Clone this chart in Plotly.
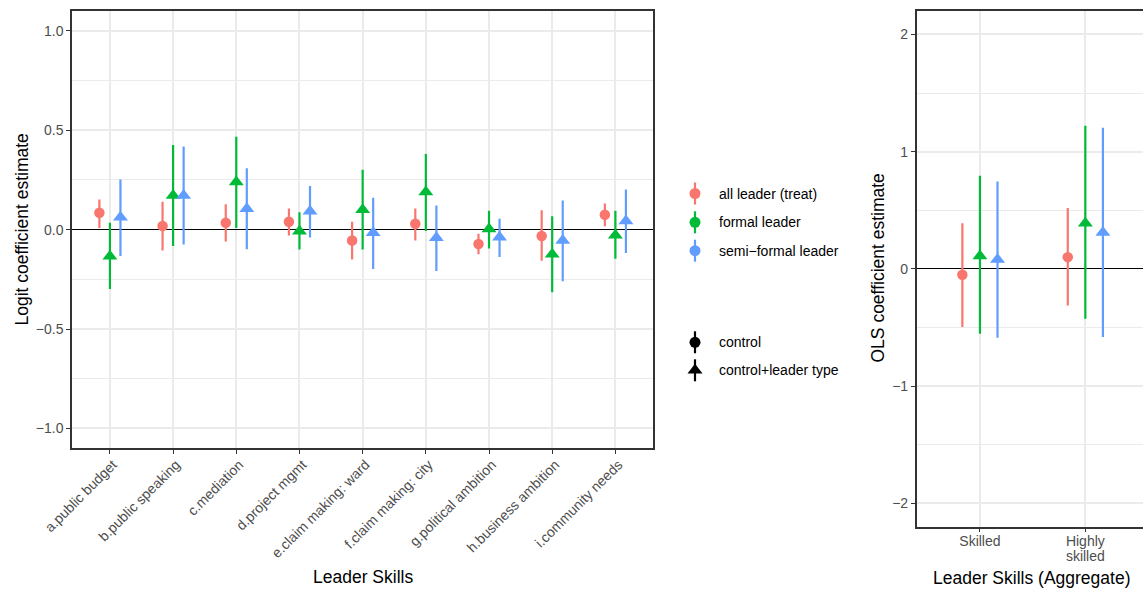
import plotly.graph_objects as go

# ---------------- data ----------------
skills = ["a.public budget", "b.public speaking", "c.mediation", "d.project mgmt",
          "e.claim making: ward", "f.claim making: city", "g.political ambition",
          "h.business ambition", "i.community needs"]

# all leader (treat) -- model: control
all_est = [0.085, 0.018, 0.035, 0.040, -0.055, 0.030, -0.072, -0.032, 0.075]
all_lo = [0.008, -0.105, -0.060, -0.029, -0.150, -0.054, -0.124, -0.157, 0.017]
all_hi = [0.152, 0.140, 0.128, 0.107, 0.040, 0.107, -0.020, 0.097, 0.132]

# formal leader -- model: control+leader type
formal_est = [-0.134, 0.172, 0.240, -0.008, 0.100, 0.190, 0.003, -0.124, -0.028]
formal_lo = [-0.298, -0.082, 0.008, -0.100, -0.100, -0.007, -0.095, -0.315, -0.146]
formal_hi = [0.035, 0.426, 0.467, 0.087, 0.301, 0.381, 0.095, 0.068, 0.095]

# semi-formal leader -- model: control+leader type
semi_est = [0.062, 0.172, 0.105, 0.092, -0.016, -0.041, -0.038, -0.054, 0.044]
semi_lo = [-0.132, -0.075, -0.099, -0.040, -0.198, -0.208, -0.137, -0.259, -0.117]
semi_hi = [0.252, 0.418, 0.309, 0.219, 0.161, 0.122, 0.055, 0.147, 0.202]

# aggregate panel
agg_cats = ["Skilled", "Highly<br>skilled"]
agg_all_est = [-0.05, 0.10]
agg_all_lo = [-0.497, -0.313]
agg_all_hi = [0.39, 0.52]
agg_formal_est = [0.11, 0.39]
agg_formal_lo = [-0.554, -0.426]
agg_formal_hi = [0.795, 1.22]
agg_semi_est = [0.08, 0.31]
agg_semi_lo = [-0.588, -0.582]
agg_semi_hi = [0.746, 1.204]

left_yticks = [-1.0, -0.5, 0.0, 0.5, 1.0]
left_yticktext = ["\u22121.0", "\u22120.5", "0.0", "0.5", "1.0"]
right_yticks = [-2, -1, 0, 1, 2]
right_yticktext = ["\u22122", "\u22121", "0", "1", "2"]

series_names = ["all leader (treat)", "formal leader", "semi\u2212formal leader"]
model_names = ["control", "control+leader type"]

# ---------------- style ----------------
W, H = 1143, 590
COLORS = ["#F8766D", "#00BA38", "#619CFF"]
SYMBOLS = ["circle", "triangle-up", "triangle-up"]
MSIZE = {"circle": 10.5, "triangle-up": 13}
DODGE = [-1 / 6, 0.0, 1 / 6]
FONT = "Liberation Sans, Arial, Helvetica, sans-serif"
TICK_COLOR = "#4D4D4D"
GRID = "#EBEBEB"
BORDER = "#333333"
ERR_W = 2.2


def px_x(p):
    return p / W


def px_y(p):
    return 1 - p / H


def tight_lines(label, size=14):
    # keep 14px glyphs but a tighter line pitch (set by the smaller base tick font)
    return "<br>".join(f"<span style='font-size:{size}px'>{part}</span>"
                       for part in label.split("<br>"))


fig = go.Figure()


def add_panel(cats, series, xa, ya):
    for k, (est, lo, hi) in enumerate(series):
        plus = [h - e for e, h in zip(est, hi)]
        minus = [e - l for e, l in zip(est, lo)]
        fig.add_trace(go.Scatter(
            x=[i + 1 + DODGE[k] for i in range(len(cats))], y=est, mode="markers",
            marker=dict(symbol=SYMBOLS[k], size=MSIZE[SYMBOLS[k]], color=COLORS[k],
                        line=dict(width=0)),
            error_y=dict(type="data", symmetric=False, array=plus, arrayminus=minus,
                         width=0, thickness=ERR_W, color=COLORS[k]),
            xaxis=xa, yaxis=ya, showlegend=False, name=series_names[k],
            cliponaxis=False))


add_panel(skills, [(all_est, all_lo, all_hi), (formal_est, formal_lo, formal_hi),
                   (semi_est, semi_lo, semi_hi)], "x", "y")
add_panel(agg_cats, [(agg_all_est, agg_all_lo, agg_all_hi),
                     (agg_formal_est, agg_formal_lo, agg_formal_hi),
                     (agg_semi_est, agg_semi_lo, agg_semi_hi)], "x2", "y2")

# ---------------- legend (drawn in pixel-coordinate helper axes) ----------------
LEG_X0, LEG_X1 = 665, 880
glyph_x = 695
text_x = 716.5
series_rows = [193.5, 222.3, 250.7]
model_rows = [342.3, 370.3]
annotations = []
for k, name in enumerate(series_names):
    fig.add_trace(go.Scatter(
        x=[glyph_x], y=[series_rows[k]], mode="markers",
        marker=dict(symbol="circle", size=11, color=COLORS[k], line=dict(width=0)),
        error_y=dict(type="constant", value=11, width=0, thickness=ERR_W, color=COLORS[k]),
        xaxis="x3", yaxis="y3", showlegend=False, hoverinfo="skip", cliponaxis=False))
    annotations.append(dict(x=text_x, y=series_rows[k], xref="x3", yref="y3", text=name,
                            showarrow=False, xanchor="left", yanchor="middle",
                            font=dict(size=14, color="black", family=FONT)))
for k, name in enumerate(model_names):
    sym = "circle" if k == 0 else "triangle-up"
    fig.add_trace(go.Scatter(
        x=[glyph_x], y=[model_rows[k]], mode="markers",
        marker=dict(symbol=sym, size=11 if k == 0 else 13, color="black", line=dict(width=0)),
        error_y=dict(type="constant", value=11, width=0, thickness=ERR_W, color="black"),
        xaxis="x3", yaxis="y3", showlegend=False, hoverinfo="skip", cliponaxis=False))
    annotations.append(dict(x=text_x, y=model_rows[k], xref="x3", yref="y3", text=name,
                            showarrow=False, xanchor="left", yanchor="middle",
                            font=dict(size=14, color="black", family=FONT)))

# axis titles
title_font = dict(size=17.5, color="black", family=FONT)
annotations += [
    dict(x=px_x(21), y=px_y(229.5), xref="paper", yref="paper", text="Logit coefficient estimate",
         textangle=-90, showarrow=False, xanchor="center", yanchor="middle", font=title_font),
    dict(x=px_x(362.5), y=px_y(577), xref="paper", yref="paper", text="Leader Skills",
         showarrow=False, xanchor="center", yanchor="middle", font=title_font),
    dict(x=px_x(877), y=px_y(268.5), xref="paper", yref="paper", text="OLS coefficient estimate",
         textangle=-90, showarrow=False, xanchor="center", yanchor="middle", font=title_font),
    dict(x=px_x(1031.5), y=px_y(578), xref="paper", yref="paper", text="Leader Skills (Aggregate)",
         showarrow=False, xanchor="center", yanchor="middle", font=title_font),
]

tickfont = dict(size=14, color=TICK_COLOR, family=FONT)
common_x = dict(showgrid=True, gridcolor=GRID, gridwidth=1.5, zeroline=False,
                showline=True, linecolor=BORDER, linewidth=1.5, mirror=True,
                ticks="outside", ticklen=4, tickwidth=1.3, tickcolor=BORDER,
                automargin=False, fixedrange=True)
common_y = dict(showgrid=True, gridcolor=GRID, gridwidth=1.5,
                zeroline=True, zerolinecolor="black", zerolinewidth=1,
                showline=True, linecolor=BORDER, linewidth=1.5,
                ticks="outside", ticklen=4, tickwidth=1.3, tickcolor=BORDER,
                tickfont=tickfont, automargin=False, fixedrange=True)

right_x0 = 916.7
right_step = 105.4

fig.update_layout(
    template="none",
    width=W, height=H,
    margin=dict(l=0, r=0, t=0, b=0),
    paper_bgcolor="white", plot_bgcolor="rgba(0,0,0,0)",
    font=dict(family=FONT),
    showlegend=False,
    xaxis=dict(domain=[px_x(72), px_x(653.3)], range=[0.4, len(skills) + 0.6],
               tickvals=list(range(1, len(skills) + 1)), ticktext=skills, tickangle=-45,
               tickfont=tickfont, ticklabelstandoff=-3, ticklabelshift=3,
               anchor="y", **common_x),
    yaxis=dict(domain=[px_y(448.3), px_y(11)], range=[-1.1, 1.1],
               tickvals=left_yticks, ticktext=left_yticktext, anchor="x", mirror=True,
               minor=dict(tickvals=[-0.75, -0.25, 0.25, 0.75], showgrid=True,
                          gridcolor=GRID, gridwidth=0.8, ticks=""),
               **common_y),
    xaxis2=dict(domain=[px_x(right_x0), 1.0],
                range=[0.4, 0.4 + (W - right_x0) / right_step],
                tickvals=list(range(1, len(agg_cats) + 1)),
                ticktext=[tight_lines(c) for c in agg_cats], tickangle=0,
                tickfont=dict(size=11.5, color=TICK_COLOR, family=FONT),
                anchor="y2", **common_x),
    yaxis2=dict(domain=[px_y(526.7), px_y(11)], range=[-2.2, 2.2],
                tickvals=right_yticks, ticktext=right_yticktext, anchor="x2", mirror=False,
                minor=dict(tickvals=[-1.5, -0.5, 0.5, 1.5], showgrid=True,
                           gridcolor=GRID, gridwidth=0.8, ticks=""),
                **common_y),
    xaxis3=dict(domain=[px_x(LEG_X0), px_x(LEG_X1)], range=[LEG_X0, LEG_X1], visible=False,
                anchor="y3", fixedrange=True),
    yaxis3=dict(domain=[0, 1], range=[H, 0], visible=False, anchor="x3", fixedrange=True),
    annotations=annotations,
)

fig.write_html("out.html")
